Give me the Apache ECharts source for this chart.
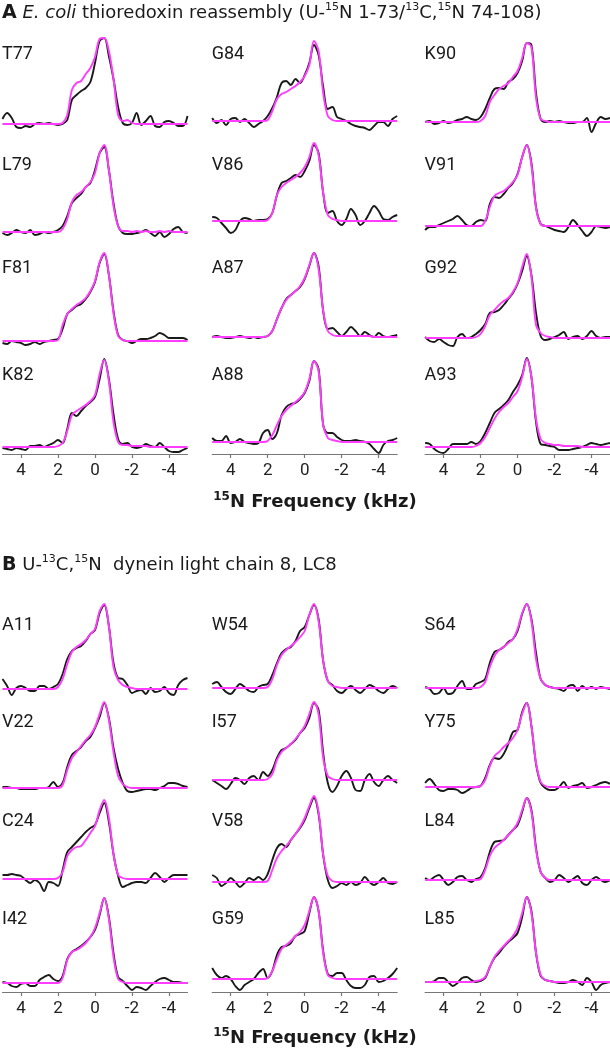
<!DOCTYPE html>
<html lang="en">
<head>
    <meta charset="utf-8" />
    <title>15N line shapes</title>
    <script type="text/javascript" src="https://cdn.jsdelivr.net/npm/echarts@6/dist/echarts.min.js"></script>
    <style type="text/css">
        html, body { margin: 0; padding: 0; background: #fff; }
        #main { width: 610px; height: 1050px; }
    </style>
</head>
<body>
    <div id="main"></div>
    <script type="text/javascript">

        // frequency grid (kHz), shared by every trace
        var freq = [5, 4.75, 4.5, 4.25, 4, 3.75, 3.5, 3.25, 3, 2.75, 2.5, 2.25, 2,
            1.75, 1.5, 1.25, 1, 0.75, 0.5, 0.25, 0, -0.25, -0.5, -0.75, -1, -1.25, -1.5, -1.75,
            -2, -2.25, -2.5, -2.75, -3, -3.25, -3.5, -3.75, -4, -4.25, -4.5, -4.75, -5];
        var freqTicks = [4, 2, 0, -2, -4];

        // panel A: thioredoxin
        var panelA = ['T77', 'G84', 'K90', 'L79', 'V86', 'V91', 'F81', 'A87', 'G92', 'K82', 'A88', 'A93'];
        // panel B: LC8
        var panelB = ['A11', 'W54', 'S64', 'V22', 'I57', 'Y75', 'C24', 'V58', 'L84', 'I42', 'G59', 'L85'];

        // experimental (black) and fitted (magenta) intensities
        var T77_exp = [4, 10, 5, -4, -5, -3, -4, -1, 0, -1, 0, -1, -2, -1, 3, 23, 28, 32, 35, 41, 60, 82, 85, 67, 44, 16, 0, -2, 0, 10, -2, 2, 7, -3, -4, 1, 2, 0, -3, -3, 7];
        var T77_fit = [-1, -1, -1, -1, -1, -1, -1, -1, -1, -1, -1, -1, -1, 0, 8, 33, 40, 42, 49, 55, 66, 84, 85, 72, 44, 8, 2, 3, 0, -1, -1, -1, -1, -1, -1, -1, -1, -1, -1, -1, -1];
        var G84_exp = [5, 0, 3, -2, 4, 5, 1, 4, 0, -4, -1, 2, 7, 15, 26, 40, 42, 38, 44, 40, 48, 60, 78, 68, 36, 14, 16, 6, 4, 2, -1, -3, -4, -5, -7, -3, 1, 1, -3, 4, 7];
        var G84_fit = [2, 2, 2, 2, 2, 2, 2, 2, 2, 2, 2, 2, 3, 12, 24, 29, 31, 34, 37, 41, 47, 58, 82, 72, 30, 7, 3, 2, 2, 2, 2, 2, 2, 2, 2, 2, 2, 2, 2, 2, 2];
        var K90_exp = [1, 2, -1, 0, 2, 0, 1, 3, 4, 6, 4, 3, 6, 14, 25, 34, 35, 34, 41, 44, 50, 62, 80, 78, 30, 4, 1, 2, 1, 2, 1, 0, 0, 1, 1, 5, -9, 0, 6, 4, 5];
        var K90_fit = [1, 1, 1, 1, 1, 1, 1, 1, 1, 1, 1, 1, 2, 7, 21, 28, 34, 37, 40, 46, 52, 65, 80, 76, 25, 4, 2, 1, 1, 1, 1, 1, 1, 1, 1, 1, 1, 1, 1, 1, 1];
        var L79_exp = [0, -2, 0, 3, 1, 0, 3, -2, -1, 1, 0, 1, 3, 7, 17, 30, 35, 39, 46, 50, 63, 80, 86, 63, 30, 7, 0, -1, -1, 0, 1, 3, 0, -3, 1, -4, -1, 4, 6, 1, 0];
        var L79_fit = [1, 1, 1, 1, 1, 1, 1, 1, 1, 1, 1, 1, 1, 4, 14, 31, 38, 41, 46, 51, 60, 80, 88, 63, 27, 7, 2, 2, 1, 2, 1, 2, 1, 1, 2, 1, 2, 1, 1, 1, 1];
        var V86_exp = [16, 15, 10, 5, 0, 3, 12, 15, 14, 12, 13, 13, 14, 20, 38, 50, 52, 55, 58, 56, 62, 72, 88, 80, 40, 20, 22, 12, 8, 14, 24, 18, 8, 12, 20, 27, 22, 14, 13, 16, 18];
        var V86_fit = [12, 12, 12, 12, 12, 12, 12, 12, 12, 12, 12, 12, 13, 20, 38, 46, 50, 53, 56, 60, 66, 76, 90, 78, 40, 18, 14, 13, 12, 12, 12, 12, 12, 12, 12, 12, 12, 12, 12, 12, 12];
        var V91_exp = [3, 6, 6, 8, 10, 12, 14, 17, 13, 8, 7, 11, 13, 12, 29, 36, 35, 39, 45, 50, 59, 76, 88, 70, 26, 9, 7, 5, 3, 2, 1, 6, 13, 8, 2, -3, 1, 7, 6, 5, 6];
        var V91_fit = [7, 7, 7, 7, 7, 7, 7, 7, 7, 7, 7, 7, 7, 12, 26, 37, 40, 42, 46, 51, 58, 76, 88, 68, 25, 9, 7, 7, 7, 7, 7, 7, 7, 7, 7, 7, 7, 7, 7, 7, 7];
        var F81_exp = [-2, -3, 0, -1, -2, -4, -3, -1, -3, -1, 0, 1, 2, 12, 27, 31, 35, 37, 42, 49, 59, 78, 87, 66, 30, 6, 1, 0, -2, 0, 2, 2, 3, 5, 8, 6, 3, 3, 3, 3, 1];
        var F81_fit = [0, 0, 0, 0, 0, 0, 0, 0, 0, 0, 0, 0, 1, 16, 27, 32, 36, 39, 43, 50, 60, 79, 88, 66, 28, 5, 1, 0, 0, 0, 0, 0, 0, 0, 0, 0, 0, 0, 0, 0, 0];
        var A87_exp = [4, 5, 4, 3, 3, 4, 5, 4, 3, 4, 3, 4, 5, 10, 22, 33, 42, 46, 50, 54, 62, 75, 88, 75, 30, 12, 13, 9, 5, 9, 14, 10, 5, 9, 6, 4, 8, 5, 4, 5, 6];
        var A87_fit = [4, 4, 4, 4, 4, 4, 4, 4, 4, 4, 4, 4, 5, 10, 22, 33, 41, 46, 50, 55, 63, 76, 88, 72, 30, 10, 6, 5, 5, 5, 5, 5, 5, 5, 5, 4, 4, 4, 4, 4, 4];
        var G92_exp = [4, 0, -1, 2, -1, -4, -5, 4, 7, 3, 4, 7, 11, 17, 28, 29, 31, 36, 42, 48, 57, 70, 85, 66, 28, 5, 1, 2, 4, 6, 9, 2, 4, 5, 2, 5, 10, 5, 3, 4, 4];
        var G92_fit = [3, 3, 3, 3, 3, 3, 3, 3, 3, 3, 3, 4, 7, 15, 26, 31, 36, 40, 43, 49, 58, 74, 87, 64, 16, 8, 5, 4, 3, 3, 3, 3, 3, 3, 3, 3, 3, 3, 3, 3, 3];
        var K82_exp = [-1, -2, -3, -1, -2, -3, 1, 1, 2, 0, 2, 4, 7, 4, 18, 34, 31, 36, 41, 45, 50, 68, 88, 68, 33, 8, 3, 4, 0, -1, 0, 3, 1, 0, 4, 0, -4, -5, -5, -3, -1];
        var K82_fit = [0, 0, 0, 0, 0, 0, 0, 0, 0, 0, 0, 0, 1, 4, 16, 32, 36, 39, 42, 46, 52, 73, 87, 66, 25, 5, 2, 2, 1, 1, 1, 1, 0, 0, 0, 0, 0, 0, 0, 0, 0];
        var A88_exp = [9, 6, 6, 11, 4, 5, 8, 5, 4, 3, 4, 14, 17, 8, 14, 32, 40, 43, 44, 48, 54, 66, 86, 78, 22, 14, 14, 10, 7, 6, 6, 7, 6, 5, 3, -2, -6, 2, 6, 7, 9];
        var A88_fit = [5, 5, 5, 5, 5, 5, 5, 5, 5, 5, 5, 5, 6, 12, 22, 31, 37, 41, 45, 49, 55, 68, 86, 76, 22, 9, 7, 6, 5, 5, 5, 5, 5, 5, 5, 5, 5, 5, 5, 5, 5];
        var A93_exp = [4, 3, -2, -5, -6, -2, 3, 3, 3, 3, 5, 3, 6, 14, 24, 34, 38, 42, 47, 55, 62, 72, 89, 70, 25, 3, 2, 1, 0, -3, -3, -3, -2, -1, 0, 2, 4, 3, 2, 3, 4];
        var A93_fit = [0, 0, 0, 0, 0, 0, 0, 0, 0, 0, 0, 1, 4, 10, 19, 28, 35, 40, 44, 50, 56, 70, 88, 70, 28, 8, 4, 3, 2, 2, 1, 1, 1, 1, 0, 0, 0, 0, 0, 0, 0];

        var A11_exp = [10, 3, -6, 1, 3, 1, -2, -2, 3, 3, 0, 2, 5, 15, 30, 38, 41, 43, 48, 55, 59, 76, 84, 63, 26, 11, 10, 4, -4, -2, -1, -5, 1, -3, -2, 2, -4, -6, 4, 9, 11];
        var A11_fit = [0, 0, 0, 0, 0, 0, 0, 0, 0, 0, 0, 0, 2, 10, 25, 37, 42, 45, 49, 55, 60, 78, 85, 63, 22, 9, 4, 2, 1, 0, 0, 0, 0, 0, 0, 0, 0, 0, 0, 0, 0];
        var W54_exp = [5, 7, 2, -3, -5, 0, 5, 2, -2, -3, 2, 4, 5, 14, 26, 36, 40, 42, 48, 58, 62, 74, 84, 70, 28, 8, 4, -2, -4, 0, 3, -1, -4, 0, 4, 2, -2, -4, 0, 3, 1];
        var W54_fit = [1, 1, 1, 1, 1, 1, 1, 1, 1, 1, 1, 1, 2, 10, 24, 34, 39, 43, 47, 52, 58, 74, 85, 68, 28, 8, 3, 2, 1, 1, 1, 1, 1, 1, 1, 1, 1, 1, 1, 1, 1];
        var S64_exp = [2, 0, -5, -4, 1, -5, -4, 3, 8, 0, 0, 5, 7, 10, 26, 37, 39, 42, 47, 50, 58, 75, 85, 70, 36, 10, 4, 2, 1, 0, -2, 3, 4, -2, 3, 0, 2, 0, 2, 1, 0];
        var S64_fit = [1, 1, 1, 1, 1, 1, 1, 1, 1, 1, 1, 1, 2, 7, 22, 33, 39, 42, 46, 50, 60, 76, 85, 68, 30, 10, 4, 2, 1, 1, 1, 1, 1, 1, 1, 1, 1, 1, 1, 1, 1];
        var V22_exp = [1, 1, 0, 0, -1, -1, -1, -1, 0, 0, 1, 6, 1, 5, 21, 33, 37, 41, 47, 51, 60, 71, 85, 70, 40, 19, 5, -3, -4, -3, -2, -1, -1, -2, 0, 2, 5, 5, 4, 2, 1];
        var V22_fit = [0, 0, 0, 0, 0, 0, 0, 0, 0, 0, 0, 0, 0, 3, 18, 30, 36, 42, 48, 53, 61, 74, 86, 68, 36, 12, 4, 1, 0, 0, 0, 0, 0, 0, 0, 0, 0, 0, 0, 0, 0];
        var I57_exp = [8, 5, 2, -1, 4, 10, 8, 4, 10, 12, 8, 16, 12, 18, 30, 38, 40, 44, 48, 55, 60, 70, 85, 78, 35, 5, -4, 2, 12, 17, 10, -2, -3, 8, 14, 6, 2, 8, 12, 8, 5];
        var I57_fit = [8, 8, 8, 8, 8, 8, 8, 8, 8, 8, 8, 8, 9, 14, 28, 36, 40, 44, 49, 55, 62, 74, 86, 74, 30, 12, 9, 8, 8, 8, 8, 8, 8, 8, 8, 8, 8, 8, 8, 8, 8];
        var Y75_exp = [5, 9, 4, -2, -3, -1, -1, -2, -5, -3, 0, 1, 2, 10, 23, 30, 29, 34, 44, 56, 58, 76, 85, 62, 24, 5, 0, -2, -2, 1, 6, 0, 2, 3, 5, 0, 1, 3, 5, 6, 4];
        var Y75_fit = [1, 1, 1, 1, 1, 1, 1, 1, 1, 1, 1, 1, 2, 8, 22, 32, 36, 41, 45, 50, 58, 74, 85, 62, 25, 6, 2, 1, 1, 1, 1, 1, 1, 1, 1, 1, 1, 1, 1, 1, 1];
        var C24_exp = [5, 5, 6, 5, 4, 0, -3, 0, -3, -11, -2, -3, -6, 10, 28, 33, 38, 43, 48, 52, 55, 67, 77, 58, 26, 4, -7, -5, -3, -2, -2, -3, 2, 7, 3, -2, 2, 5, 5, 5, 5];
        var C24_fit = [1, 1, 1, 1, 1, 1, 1, 1, 1, 1, 1, 1, 2, 8, 24, 30, 33, 34, 40, 47, 54, 70, 80, 62, 26, 5, 2, 1, 1, 1, 1, 1, 1, 1, 1, 1, 1, 1, 1, 1, 1];
        var V58_exp = [5, 2, -6, -3, 2, -2, -7, -3, 2, 0, 3, 0, 6, 20, 32, 36, 33, 40, 46, 52, 60, 72, 82, 66, 25, 0, -8, -6, -3, -5, -2, -5, -3, 3, -2, -5, -2, 2, -3, -4, -2];
        var V58_fit = [-2, -2, -2, -2, -2, -2, -2, -2, -2, -2, -2, -2, -1, 10, 22, 29, 34, 40, 46, 53, 62, 74, 84, 68, 25, 4, -1, -2, -2, -2, -2, -2, -2, -2, -2, -2, -2, -2, -2, -2, -2];
        var L84_exp = [2, 0, 3, 5, 0, -5, -2, 3, 4, 0, -2, 1, 3, 12, 28, 38, 39, 40, 45, 50, 55, 68, 82, 70, 32, 8, 2, -2, 0, 5, 2, -2, 1, 4, -3, -5, 0, 3, 0, -2, 0];
        var L84_fit = [0, 0, 0, 0, 0, 0, 0, 0, 0, 0, 0, 0, 1, 10, 24, 32, 36, 40, 45, 50, 57, 70, 82, 68, 30, 8, 2, 0, 0, 0, 0, 0, 0, 0, 0, 0, 0, 0, 0, 0, 0];
        var I42_exp = [1, 0, -3, -4, -1, 0, -3, -3, 3, 6, 8, 4, 2, 7, 24, 31, 34, 37, 41, 46, 53, 68, 85, 66, 30, 6, 2, -3, -7, -4, -5, -7, -3, 1, 4, 5, 3, 1, 1, 0, 0];
        var I42_fit = [0, 0, 0, 0, 0, 0, 0, 0, 0, 0, 0, 0, 0, 5, 23, 31, 33, 36, 40, 46, 55, 70, 85, 64, 26, 4, 1, 0, 0, 0, 0, 0, 0, 0, 0, 0, 0, 0, 0, 0, 0];
        var G59_exp = [15, 8, 5, 7, 4, -3, -7, -2, 1, 4, 10, 14, 5, 12, 28, 36, 37, 40, 47, 49, 52, 70, 86, 72, 32, 9, 7, 10, 10, 3, -3, -5, -5, -2, 6, 7, 1, 2, 5, 9, 15];
        var G59_fit = [4, 4, 4, 4, 4, 4, 4, 4, 4, 4, 4, 4, 5, 12, 24, 34, 38, 42, 47, 51, 58, 72, 86, 72, 30, 8, 5, 4, 4, 4, 4, 4, 4, 4, 4, 4, 4, 4, 4, 4, 4];
        var L85_exp = [1, 1, 2, 5, 5, 1, -3, 0, 5, 6, 3, 1, 2, 5, 16, 25, 30, 36, 41, 45, 50, 66, 86, 72, 30, 7, 3, 2, 1, 0, 0, 1, 3, 1, -2, 5, 1, -7, -2, 0, 1];
        var L85_fit = [1, 1, 1, 1, 1, 1, 1, 1, 1, 1, 1, 2, 3, 6, 16, 26, 32, 37, 42, 47, 55, 70, 86, 70, 30, 8, 3, 2, 1, 1, 1, 1, 1, 1, 1, 1, 1, 1, 1, 1, 1];

        var expData = {
            T77: T77_exp, G84: G84_exp, K90: K90_exp, L79: L79_exp, V86: V86_exp, V91: V91_exp,
            F81: F81_exp, A87: A87_exp, G92: G92_exp, K82: K82_exp, A88: A88_exp, A93: A93_exp,
            A11: A11_exp, W54: W54_exp, S64: S64_exp, V22: V22_exp, I57: I57_exp, Y75: Y75_exp,
            C24: C24_exp, V58: V58_exp, L84: L84_exp, I42: I42_exp, G59: G59_exp, L85: L85_exp
        };
        var fitData = {
            T77: T77_fit, G84: G84_fit, K90: K90_fit, L79: L79_fit, V86: V86_fit, V91: V91_fit,
            F81: F81_fit, A87: A87_fit, G92: G92_fit, K82: K82_fit, A88: A88_fit, A93: A93_fit,
            A11: A11_fit, W54: W54_fit, S64: S64_fit, V22: V22_fit, I57: I57_fit, Y75: Y75_fit,
            C24: C24_fit, V58: V58_fit, L84: L84_fit, I42: I42_fit, G59: G59_fit, L85: L85_fit
        };

        var FONT = 'Roboto, "Noto Sans", sans-serif';
        var TFONT = '"DejaVu Sans", "Noto Sans", sans-serif';
        var colLeft = [2.5, 212.2, 425.1];
        var colWidth = 185;
        var panels = [
            { names: panelA, axisY: [130, 240, 348, 454], ymin: -7, ymax: 93, labelY: [54, 165, 268, 375], titleY: 502 },
            { names: panelB, axisY: [698, 797, 889, 992], ymin: -9, ymax: 91, labelY: [625, 722, 821, 919], titleY: 1038 }
        ];

        function toPairs(vals) {
            return freq.map(function (f, i) { return [f, vals[i]]; });
        }

        function lineSeries(idx, vals, color) {
            return {
                type: 'line',
                xAxisIndex: idx,
                yAxisIndex: idx,
                data: toPairs(vals),
                symbol: 'none',
                smooth: 0.35,
                clip: false,
                silent: true,
                lineStyle: { color: color, width: 1.9 }
            };
        }

        var grids = [], xAxes = [], yAxes = [], series = [], graphics = [];

        panels.forEach(function (p) {
            var h = p.ymax - p.ymin;
            p.names.forEach(function (name, k) {
                var row = Math.floor(k / 3), col = k % 3;
                var idx = grids.length;
                var bottomRow = (row === 3);
                grids.push({ left: colLeft[col], width: colWidth, top: p.axisY[row] - h, height: h });
                xAxes.push({
                    gridIndex: idx, type: 'value', min: -5, max: 5, inverse: true, show: bottomRow,
                    axisLine: { show: true, onZero: false, lineStyle: { color: '#777', width: 1.2 } },
                    axisTick: { show: true, customValues: freqTicks, length: 4, lineStyle: { color: '#777', width: 1.2 } },
                    axisLabel: { customValues: freqTicks, fontSize: 17, color: '#222', margin: 8, fontFamily: FONT },
                    splitLine: { show: false }
                });
                yAxes.push({ gridIndex: idx, type: 'value', min: p.ymin, max: p.ymax, show: false, splitLine: { show: false } });
                series.push(lineSeries(idx, expData[name], '#1a1a1a'));
                series.push(lineSeries(idx, fitData[name], '#ff3cff'));
                graphics.push({
                    type: 'text', x: colLeft[col] - 0.5, y: p.labelY[row],
                    style: { text: name, fontFamily: FONT, fontSize: 18, fill: '#1a1a1a', verticalAlign: 'middle', textVerticalAlign: 'middle' }
                });
            });
            // axis title
            graphics.push({
                type: 'text', x: 315, y: p.titleY,
                style: {
                    text: '{s|15}{n|N Frequency (kHz)}',
                    align: 'center', textAlign: 'center', verticalAlign: 'middle', textVerticalAlign: 'middle',
                    fill: '#1a1a1a',
                    rich: {
                        s: { fontFamily: TFONT, fontWeight: 'bold', fontSize: 12, lineHeight: 22, verticalAlign: 'top', fill: '#1a1a1a' },
                        n: { fontFamily: TFONT, fontWeight: 'bold', fontSize: 18, lineHeight: 22, fill: '#1a1a1a' }
                    }
                }
            });
        });

        var titleRich = {
            b: { fontFamily: TFONT, fontWeight: 'bold', fontSize: 19, lineHeight: 22, fill: '#1a1a1a' },
            i: { fontFamily: TFONT, fontStyle: 'italic', fontSize: 18, lineHeight: 22, fill: '#1a1a1a' },
            t: { fontFamily: TFONT, fontSize: 18, lineHeight: 22, fill: '#1a1a1a' },
            s: { fontFamily: TFONT, fontSize: 11, lineHeight: 22, verticalAlign: 'top', fill: '#1a1a1a' }
        };
        graphics.push({
            type: 'text', x: 2, y: 13,
            style: {
                text: '{b|A}{t| }{i|E. coli}{t| thioredoxin reassembly (U-}{s|15}{t|N 1-73/}{s|13}{t|C,}{s|15}{t|N 74-108)}',
                verticalAlign: 'middle', textVerticalAlign: 'middle', rich: titleRich
            }
        });
        graphics.push({
            type: 'text', x: 2, y: 565,
            style: {
                text: '{b|B}{t| U-}{s|13}{t|C,}{s|15}{t|N  dynein light chain 8, LC8}',
                verticalAlign: 'middle', textVerticalAlign: 'middle', rich: titleRich
            }
        });

        var myChart = echarts.init(document.getElementById('main'));
        myChart.setOption({
            animation: false,
            grid: grids,
            xAxis: xAxes,
            yAxis: yAxes,
            series: series,
            graphic: { elements: graphics }
        });

    </script>
</body>
</html>
